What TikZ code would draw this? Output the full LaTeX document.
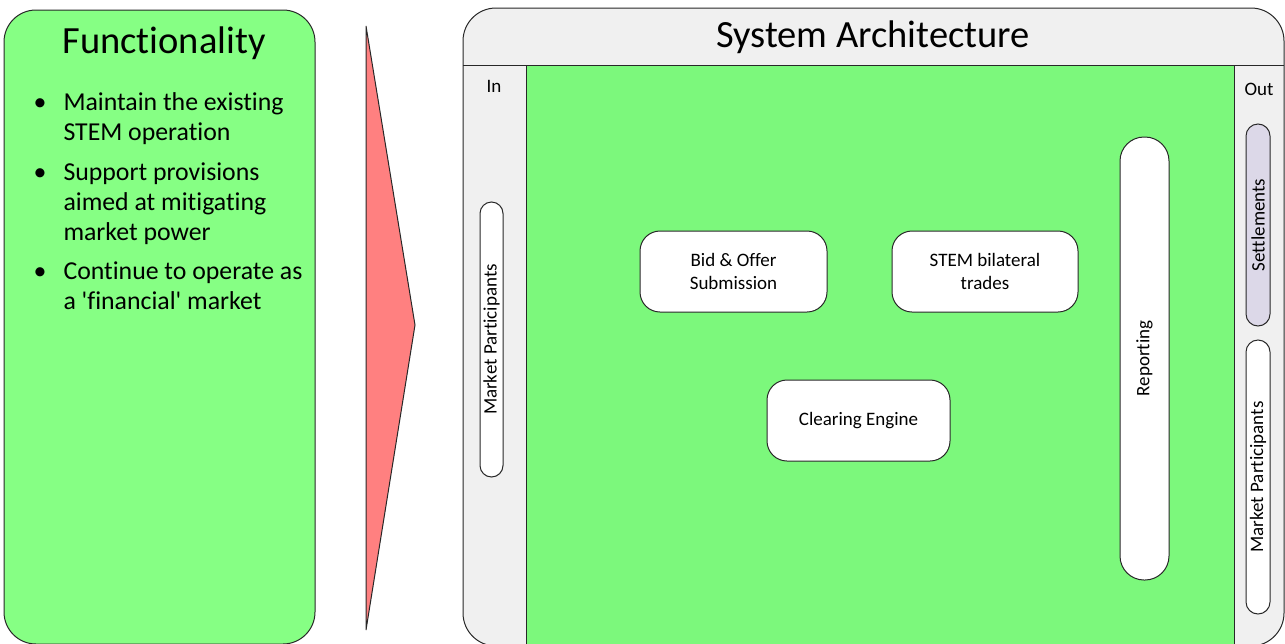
\documentclass[tikz,border=0pt]{standalone}
\usepackage{fontspec}
\setmainfont{Carlito}[Ligatures={TeXOff,CommonOff}]
\definecolor{leftgreen}{RGB}{134,255,132}
\definecolor{panelgreen}{RGB}{124,248,124}
\definecolor{headgrey}{RGB}{240,240,240}
\definecolor{arrowred}{RGB}{255,128,128}
\definecolor{settlefill}{RGB}{220,216,232}
\definecolor{edge}{RGB}{40,40,40}
\begin{document}
\begin{tikzpicture}[x=1pt,y=-1pt,line width=1pt,
  outline/.style={draw=edge},
  bigtitle/.style={font=\fontsize{38.5}{46}\selectfont,inner sep=0pt},
  itemtext/.style={font=\fontsize{25.8}{30}\selectfont,inner sep=0pt,anchor=base west},
  bulletmark/.style={font=\fontsize{25.8}{30}\selectfont,inner sep=0pt,anchor=base},
  smalltext/.style={font=\fontsize{19}{23}\selectfont},
  procbox/.style={outline,fill=white,rounded corners=20pt,smalltext,align=center,inner sep=0pt},
  pill/.style={outline,rotate=90,smalltext,inner sep=0pt},
]
\useasboundingbox (0,0) rectangle (1285,643);

% Functionality panel
\draw[outline,fill=leftgreen,rounded corners=32pt] (4,10) rectangle (315,644);
\node[bigtitle,anchor=base] (functitle) at (164,53) {Functionality};

\node[bulletmark] (b1) at (40,110) {•};
\node[itemtext] (i1a) at (63,110) {Maintain the existing};
\node[itemtext] (i1b) at (63,140) {STEM operation};
\node[bulletmark] (b2) at (40,180) {•};
\node[itemtext] (i2a) at (63,180) {Support provisions};
\node[itemtext] (i2b) at (63,210) {aimed at mitigating};
\node[itemtext] (i2c) at (63,240) {market power};
\node[bulletmark] (b3) at (40,279) {•};
\node[itemtext] (i3a) at (63,279) {Continue to operate as};
\node[itemtext] (i3b) at (63,309) {a 'financial' market};

% Transition wedge
\coordinate (wtop) at (366,26);
\coordinate (wbot) at (366,630);
\coordinate (wtip) at (415,325);
\draw[outline,fill=arrowred,line join=miter] (wtop) -- (wtip) -- (wbot) -- cycle;

% System architecture frame
\draw[outline,fill=headgrey,rounded corners=33pt] (463,8) rectangle (1284,646);
\draw[outline,fill=panelgreen] (526,65) rectangle (1234,650);
\draw[outline] (463,65) -- (1284,65);
\node[bigtitle,anchor=base] (systitle) at (873,47) {System Architecture};
\node[smalltext,anchor=base,inner sep=0pt] (inlabel) at (494,92) {In};
\node[smalltext,anchor=base,inner sep=0pt] (outlabel) at (1259,95) {Out};

% Input side
\node[pill,fill=white,rounded corners=11.5pt,minimum width=275pt,minimum height=23pt] (mpin) at (491.5,339.5) {Market Participants};

% Core processes
\node[procbox,minimum width=187pt,minimum height=81pt] (bid) at (733.5,271.5) {Bid \& Offer\\Submission};
\node[procbox,minimum width=186pt,minimum height=81pt] (stem) at (985,271.5) {STEM bilateral\\trades};
\node[procbox,minimum width=183pt,minimum height=81pt] (clear) at (858.5,420.5) {Clearing Engine};
\node[pill,fill=white,rounded corners=24pt,minimum width=443pt,minimum height=49pt] (report) at (1144.5,358.5) {Reporting};

% Output side
\node[pill,fill=settlefill,rounded corners=12pt,minimum width=202pt,minimum height=24pt] (settle) at (1258,225) {Settlements};
\node[pill,fill=white,rounded corners=12pt,minimum width=274pt,minimum height=24pt] (mpout) at (1258,477) {Market Participants};
\end{tikzpicture}
\end{document}
